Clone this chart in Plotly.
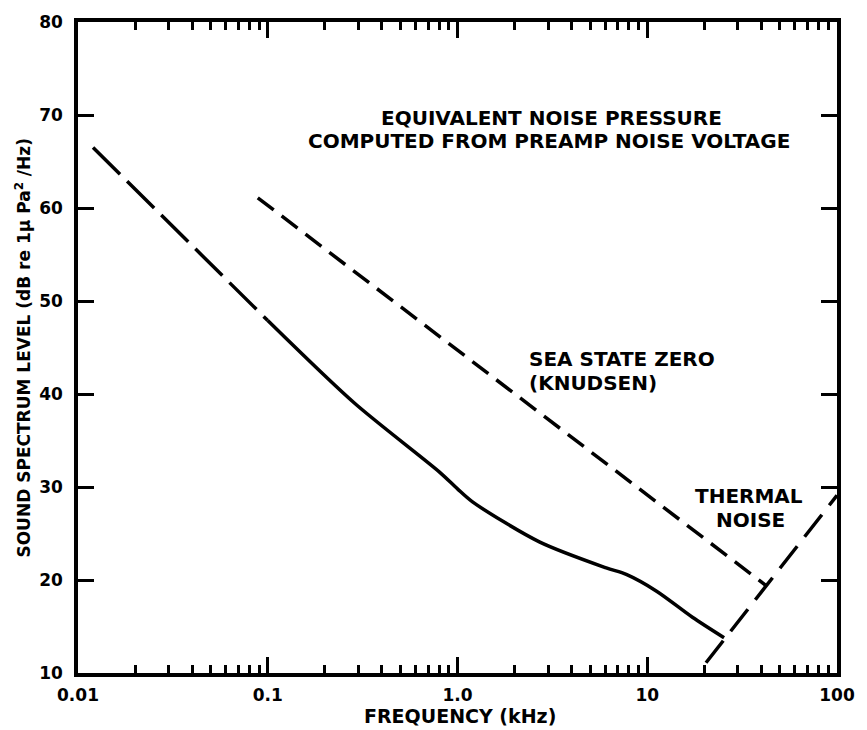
import plotly.graph_objects as go

# ---- data (frequency in kHz, level in dB) ----
preamp_dash_f = [0.012, 0.1]
preamp_dash_db = [66.5, 47.9]

preamp_f = [0.1, 0.287, 0.804, 1.0, 1.2, 2.7, 6.08, 7.75, 11.2, 17.3, 25.4]
preamp_db = [47.9, 39.0, 31.6, 29.8, 28.4, 24.1, 21.3, 20.6, 18.8, 16.0, 13.8]

sea_f = [0.0886, 42.3]
sea_db = [61.1, 19.4]

thermal_f = [20.4, 100]
thermal_db = [11.1, 29.1]

x_tickvals = [0.01, 0.1, 1, 10, 100]
x_ticktext = ["0.01", "0.1", "1.0", "10", "100"]
y_tickvals = [10, 20, 30, 40, 50, 60, 70, 80]

FONT = "DejaVu Sans"
W, H = 867, 730
L, R, T, B = 78, 29, 15, 57
PW, PH = W - L - R, H - T - B


def px(x):
    return (x - L) / PW


def py(y):
    return (H - B - y) / PH


fig = go.Figure()
fig.add_trace(go.Scatter(x=preamp_dash_f, y=preamp_dash_db, mode="lines",
                         line=dict(color="black", width=3.5, dash="38px,10px"),
                         showlegend=False, hoverinfo="skip"))
fig.add_trace(go.Scatter(x=preamp_f, y=preamp_db, mode="lines",
                         line=dict(color="black", width=3.5, shape="spline", smoothing=0.8),
                         showlegend=False, hoverinfo="skip"))
fig.add_trace(go.Scatter(x=sea_f, y=sea_db, mode="lines",
                         line=dict(color="black", width=3.5, dash="20px,10px"),
                         showlegend=False, hoverinfo="skip"))
fig.add_trace(go.Scatter(x=thermal_f, y=thermal_db, mode="lines",
                         line=dict(color="black", width=3.5, dash="28px,12px"),
                         showlegend=False, hoverinfo="skip"))

axis_common = dict(showline=True, linecolor="black", linewidth=3.5, mirror="ticks",
                   showgrid=False, zeroline=False, ticks="inside", tickcolor="black",
                   tickwidth=2.5, ticklen=16,
                   tickfont=dict(family=FONT, size=17, color="black", weight="bold"))

fig.update_xaxes(type="log", range=[-2, 2], tickvals=x_tickvals, ticktext=x_ticktext,
                 minor=dict(ticks="inside", ticklen=8, tickwidth=2.5, tickcolor="black",
                            dtick="D1", showgrid=False),
                 ticklabelstandoff=4,
                 **axis_common)
fig.update_yaxes(range=[10, 80], tickvals=y_tickvals, ticklabelstandoff=8, **axis_common)


def ann(text, x, y, xanchor="center", size=20, angle=0):
    fig.add_annotation(text="<b>" + text + "</b>", x=px(x), y=py(y), xref="paper", yref="paper",
                       xanchor=xanchor, yanchor="middle", showarrow=False, textangle=angle,
                       font=dict(family=FONT, size=size, color="black"))


ann("EQUIVALENT NOISE PRESSURE", 552, 112)
ann("COMPUTED FROM PREAMP NOISE VOLTAGE", 550, 135)
ann("SEA STATE ZERO", 528, 356, xanchor="left")
ann("(KNUDSEN)", 528, 380, xanchor="left")
ann("THERMAL", 750, 494)
ann("NOISE", 751, 518)
ann("FREQUENCY (kHz)", 461, 716, size=19)
ann("SOUND SPECTRUM LEVEL (dB re 1\u03bc Pa<sup>2</sup> /Hz)", 22, 344, size=17, angle=-90)

fig.update_layout(width=W, height=H, margin=dict(l=L, r=R, t=T, b=B),
                  paper_bgcolor="white", plot_bgcolor="white", showlegend=False)

fig.write_html("out.html")
